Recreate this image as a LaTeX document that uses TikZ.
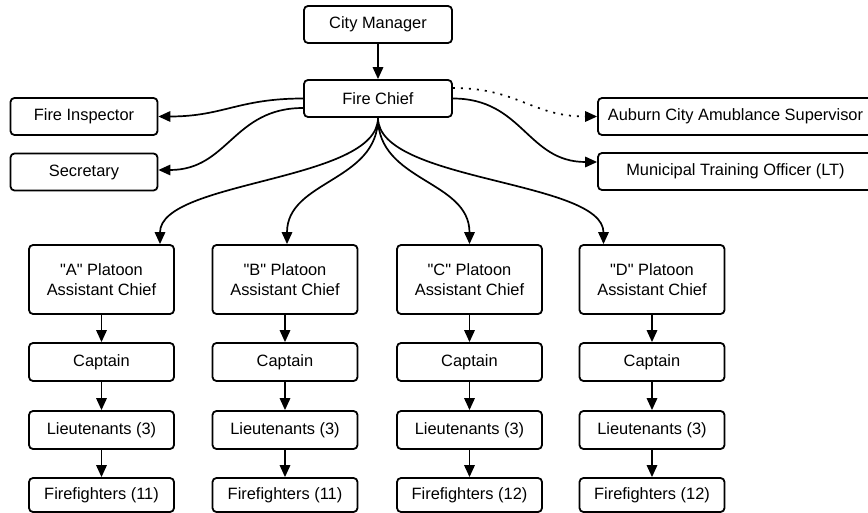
\documentclass[tikz,border=0pt]{standalone}
\usepackage{fontspec}
\setmainfont{Liberation Sans}
\usetikzlibrary{arrows.meta}
\newcommand{\orgfont}{\fontsize{16.4}{20}\selectfont}
\begin{document}
\begin{tikzpicture}[x=1pt,y=-1pt,
  box/.style={draw, line width=1.8pt, rounded corners=4pt, align=center, inner sep=0pt, font=\orgfont, minimum height=37pt},
  conn/.style={line width=1.7pt, -{Triangle[length=12pt,width=10.5pt]}},
  dotconn/.style={line width=1.7pt, dash pattern=on 2pt off 6pt, -{Triangle[length=12pt,width=10.5pt]}}]
\useasboundingbox (0,0) rectangle (868,513);
\clip (0,0) rectangle (868,513);
\node[box, minimum width=148pt] (cm) at (378,24.5) {City Manager};
\node[box, minimum width=148pt] (fc) at (378,98.5) {Fire Chief};
\node[box, minimum width=147pt] (fi) at (84,116.5) {Fire Inspector};
\node[box, minimum width=147pt] (sec) at (84,172) {Secretary};
\node[box, minimum width=275pt] (aub) at (735.5,116.5) {Auburn City Amublance Supervisor};
\node[box, minimum width=275pt] (mun) at (735.5,171.5) {Municipal Training Officer (LT)};
\foreach \n/\x/\l/\f in {a/101.5/A/11, b/285/B/11, c/469.5/C/12, d/652/D/12}{
  \node[box, minimum width=145pt, minimum height=69pt] (p\n) at (\x,279.5) {\textquotedbl\l\textquotedbl\ Platoon\\Assistant Chief};
  \node[box, minimum width=145pt, minimum height=38pt] (cap\n) at (\x,362) {Captain};
  \node[box, minimum width=145pt, minimum height=38pt] (lt\n) at (\x,430) {Lieutenants (3)};
  \node[box, minimum width=145pt, minimum height=34pt] (ff\n) at (\x,495) {Firefighters (\f)};
  \draw[conn] (p\n) -- (cap\n);
  \draw[conn] (cap\n) -- (lt\n);
  \draw[conn] (lt\n) -- (ff\n);
}
\draw[conn] (cm) -- (fc);
\draw[conn] (fc.south) .. controls +(0,64) and +(0,-64) .. ([xshift=58.5pt]pa.north);
\draw[conn] (fc.south) .. controls +(0,64) and +(0,-64) .. ([xshift=2pt]pb.north);
\draw[conn] (fc.south) .. controls +(0,64) and +(0,-64) .. (pc.north);
\draw[conn] (fc.south) .. controls +(0,64) and +(0,-64) .. ([xshift=-48.5pt]pd.north);
\draw[conn] (fc.west) .. controls +(-65,0) and +(65,0) .. (fi.east);
\draw[conn] ([yshift=-9.5pt]fc.west) .. controls +(-70,0) and +(70,0) .. ([yshift=2pt]sec.east);
\draw[dotconn] ([yshift=10.5pt]fc.east) .. controls +(65,0) and +(-65,0) .. (aub.west);
\draw[conn] (fc.east) .. controls +(70,0) and +(-70,0) .. ([yshift=9.5pt]mun.west);
\end{tikzpicture}
\end{document}
